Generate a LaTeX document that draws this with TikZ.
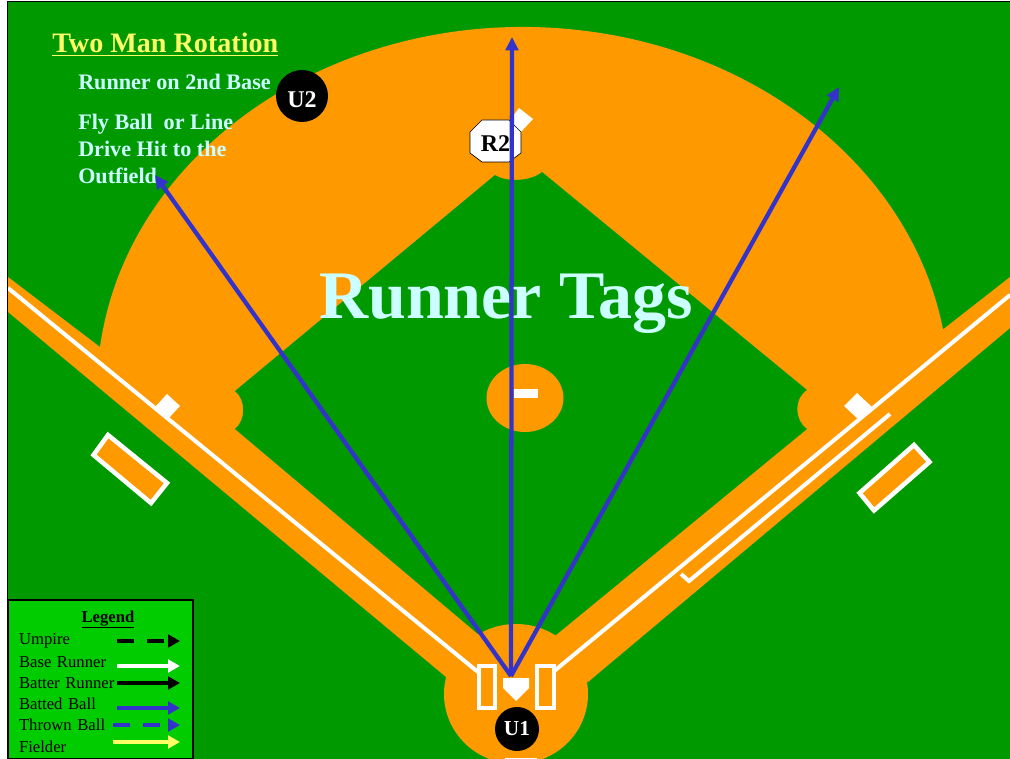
\documentclass[tikz,border=0pt]{standalone}
\usepackage{fontspec}
\setmainfont{Liberation Serif}
\usetikzlibrary{calc,arrows.meta}

\begin{document}
\begin{tikzpicture}[x=0.75pt,y=-0.75pt,node distance=15.8pt]
        \definecolor{gazon}{HTML}{009900}
        \definecolor{terre}{HTML}{FF9900}
        \definecolor{encart}{HTML}{00CC00}
        \definecolor{balle}{HTML}{3333CC}
        \definecolor{jaune}{HTML}{FFFF66}
        \definecolor{pale}{HTML}{CCFFFF}
        \tikzstyle {craie} = [draw=white, line width=3pt]
        \tikzstyle {boite} = [draw=white, line width=3.4pt, fill=terre]
        \tikzstyle {sac} = [fill=white]
        \tikzstyle {arbitre} = [circle, fill=black, text=white, font=\fontsize{16}{16}\bfseries, inner sep=0pt]
        \tikzstyle {trajet} = [balle, line width=3.2pt, -{Triangle[length=10pt,width=9.5pt]}]
        \tikzstyle {consigne} = [pale, font=\fontsize{16.6}{20}\bfseries, anchor=base west, inner sep=0pt]
        \tikzstyle {ligne_leg} = [text width=100pt, inner sep=0pt, font=\fontsize{12.5}{12.5}\selectfont]
        \tikzstyle {fleche_leg} = [line width=3.4pt, -{Triangle[length=9pt,width=9.5pt]}]
        \tikzstyle {tirets_leg} = [fleche_leg, dash pattern=on 12.75pt off 9.75pt]
        \useasboundingbox (0,0) rectangle (1010,759);
        \fill[gazon] (7.5,2) rectangle (1010,759);
        \draw[line width=0.75pt] (1010,2) -- (7.5,2) -- (7.5,759);
        % terrain
        \begin{scope}
        \clip (8,3) rectangle (1010,759);
        \fill[terre] (8,277) -- (100,347) arc[x radius=426, y radius=363, start angle=-173.2, end angle=-9.6] -- (1010,277) -- (1010,328) -- (588,682) -- (446,677) -- (8,312) -- cycle;
        \fill[gazon] (495,175) .. controls (505,182) and (530,182) .. (542,172) -- (807,390) .. controls (794,398) and (794,420) .. (807,429) -- (517,667) -- (235,429) .. controls (246,420) and (246,400) .. (235,391) -- cycle;
        \coordinate (centre_marbre) at (516,694);
        \fill[terre] (centre_marbre) ellipse[x radius=72, y radius=70];
        \fill[terre] (525,398) ellipse[x radius=38.5, y radius=34];
        \fill[white] (514,389) rectangle (538,398);
        \coordinate (ligne_g_a) at (8,288);
        \coordinate (ligne_g_b) at (478,672);
        \coordinate (ligne_d_a) at (1010,295);
        \coordinate (ligne_d_b) at (553,672);
        \draw[craie] (ligne_g_a) -- (ligne_g_b);
        \draw[craie] (ligne_d_a) -- (ligne_d_b);
        \coordinate (couloir_a) at (890,414);
        \coordinate (couloir_b) at (689,581);
        \coordinate (couloir_c) at (681,574);
        \draw[craie] (couloir_a) -- (couloir_b) -- (couloir_c);
        \draw[boite] (479,666) rectangle (495,708);
        \draw[boite] (537,666) rectangle (554,708);
        \draw[boite] (108,435) -- (93.5,455) -- (151,503) -- (167,483) -- cycle;
        \draw[boite] (914,445) -- (929.5,462) -- (874,510.5) -- (859.5,493) -- cycle;
        \fill[sac] (167,394) -- (180,406) -- (168,419) -- (156,406) -- cycle;
        \fill[sac] (857,393) -- (872,407) -- (858,419) -- (844,406) -- cycle;
        \fill[sac] (519,108) -- (533,119) -- (520,133) -- (510,120) -- cycle;
        \fill[sac] (503,678) -- (529,678) -- (529,688) -- (516,701) -- (503,688) -- cycle;
        \fill[white] (505,758) rectangle (537,759);
        \end{scope}
        % textes
        \node (titre) [jaune, anchor=base west, inner sep=0pt, font=\fontsize{21.1}{21.1}\bfseries] at (52,53) {\underline{Two Man Rotation}};
        \node (coureur) [consigne] at (78,90) {Runner on 2nd Base};
        \node (frappe_a) [consigne] at (78,130) {Fly Ball\ \ or Line};
        \node (frappe_b) [consigne] at (78,157) {Drive Hit to the};
        \node (frappe_c) [consigne] at (78,184) {Outfield};
        \node (tags) [pale, inner sep=0pt, font=\fontsize{51}{51}\bfseries, anchor=base] at (506,318) {Runner Tags};
        % personnes
        \node (u2) [arbitre, minimum size=39pt, text height=18pt, text depth=0pt, font=\fontsize{18}{18}\bfseries] at (302,96) {U2};
        \draw[line width=0.5pt, fill=white] (482,120) -- (509,120) -- (521,132) -- (521,153) -- (509,162) -- (482,162) -- (470,153) -- (470,132) -- cycle;
        \node (r2) [inner sep=0pt, font=\fontsize{18}{18}\bfseries] at (495.5,144) {R2};
        \node (u1) [arbitre, minimum size=33pt] at (517,729) {U1};
        % balles
        \coordinate (depart) at (511,676);
        \coordinate (champ_g) at (155,175);
        \coordinate (champ_c) at (512,37);
        \coordinate (champ_d) at (839,87);
        \draw[trajet] (depart) -- (champ_g);
        \draw[trajet] (depart) -- (champ_c);
        \draw[trajet] (depart) -- (champ_d);
        % legende
        \node (cadre_leg) [draw=black, line width=1pt, fill=encart, minimum width=138.75pt, minimum height=119.25pt, inner sep=0pt] at (100.5,679.5) {};
        \node (titre_leg) [font=\fontsize{12.5}{12.5}\bfseries, inner sep=0pt, anchor=base] at (108,622) {\underline{Legend}};
        \node (umpire_leg) [ligne_leg] at (85.7,641) {Umpire};
        \node (runner_leg) [ligne_leg, below of=umpire_leg] {Base Runner};
        \node (batter_leg) [ligne_leg, below of=runner_leg] {Batter Runner};
        \node (batted_leg) [ligne_leg, below of=batter_leg] {Batted Ball};
        \node (thrown_leg) [ligne_leg, below of=batted_leg] {Thrown Ball};
        \node (fielder_leg) [ligne_leg, below of=thrown_leg] {Fielder};
        \coordinate (umpire_a) at (117,641);
        \coordinate (umpire_b) at (180,641);
        \coordinate (runner_a) at (117,666);
        \coordinate (runner_b) at (180,666);
        \coordinate (batter_a) at (117,683);
        \coordinate (batter_b) at (180,683);
        \coordinate (batted_a) at (117,708);
        \coordinate (batted_b) at (180,708);
        \coordinate (thrown_a) at (113,725);
        \coordinate (thrown_b) at (180,725);
        \coordinate (fielder_a) at (113,742);
        \coordinate (fielder_b) at (180,742);
        \draw[tirets_leg, black] (umpire_a) -- (umpire_b);
        \draw[fleche_leg, white] (runner_a) -- (runner_b);
        \draw[fleche_leg, black] (batter_a) -- (batter_b);
        \draw[fleche_leg, balle] (batted_a) -- (batted_b);
        \draw[tirets_leg, balle] (thrown_a) -- (thrown_b);
        \draw[fleche_leg, jaune] (fielder_a) -- (fielder_b);
    \end{tikzpicture}
\end{document}
